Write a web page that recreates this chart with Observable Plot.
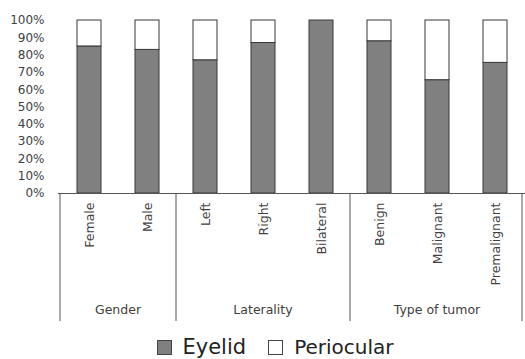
<!DOCTYPE html>
<html>
<head>
<meta charset="utf-8">
<script src="https://cdn.jsdelivr.net/npm/d3@7"></script>
<script src="https://cdn.jsdelivr.net/npm/@observablehq/plot@0.6"></script>
<style>
  body { margin: 0; background: #fff; width: 525px; height: 359px; overflow: hidden; font-family: "DejaVu Sans", sans-serif; }
  #legend { display: flex; justify-content: center; align-items: center; padding-left: 25px; margin-top: 6px; color: #222; }
  .item { display: flex; align-items: center; }
  .sw { width: 13px; height: 13px; border: 1px solid #444; margin-right: 11px; }
  .lab { line-height: 23px; }
</style>
</head>
<body>
<div id="chart"></div>
<div id="legend"></div>
<script>
const categories = ["Female", "Male", "Left", "Right", "Bilateral", "Benign", "Malignant", "Premalignant"];
const eyelid =     [85, 83, 77, 87, 100, 88, 65.5, 75.5];
const periocular = [15, 17, 23, 13, 0, 12, 34.5, 24.5];
const seriesNames = ["Eyelid", "Periocular"];
const seriesColors = ["#808080", "#ffffff"];
const legendSizes = [21, 20];
const groups = ["Gender", "Laterality", "Type of tumor"];
const groupMembers = [["Female", "Male"], ["Left", "Right", "Bilateral"], ["Benign", "Malignant", "Premalignant"]];
const yTicks = [0, 10, 20, 30, 40, 50, 60, 70, 80, 90, 100];

const rows = [];
categories.forEach((c, i) => {
  rows.push({category: c, series: "Eyelid", value: eyelid[i]});
  rows.push({category: c, series: "Periocular", value: periocular[i]});
});

const plot = Plot.plot({
  width: 525,
  height: 330,
  marginTop: 20,
  marginBottom: 137,
  marginLeft: 58,
  marginRight: 0,
  style: {fontFamily: "DejaVu Sans", fontSize: "12px", color: "#404040", background: "white"},
  x: {domain: categories, paddingInner: 0.59, paddingOuter: 0.295},
  y: {domain: [0, 100]},
  color: {domain: seriesNames, range: seriesColors},
  marks: [
    Plot.axisY({ticks: yTicks, tickFormat: d => d + "%", tickSize: 0, tickPadding: 14, fontSize: 12, label: null, fill: "#404040"}),
    Plot.axisX({tickRotate: -90, tickSize: 0, tickPadding: 9, fontSize: 12.5, label: null, fill: "#404040"}),
    Plot.barY(rows, {x: "category", y: "value", fill: "series", stroke: "#383838", strokeWidth: 1}),
    Plot.ruleY([0], {stroke: "#555"})
  ]
});

const xs = plot.scale("x");
const ys = plot.scale("y");
const step = xs.step;
const bw = xs.bandwidth;
const left = c => xs.apply(c) + bw / 2 - step / 2;
const right = c => xs.apply(c) + bw / 2 + step / 2;
const y0 = ys.apply(0);
const sepBottom = 321;

const svg = d3.select(plot);
const g = svg.append("g");
const seps = groupMembers.map(m => left(m[0]));
seps.push(right(groupMembers[groupMembers.length - 1].slice(-1)[0]) - 2);
g.selectAll("line").data(seps).join("line")
  .attr("x1", d => d).attr("x2", d => d)
  .attr("y1", y0).attr("y2", sepBottom)
  .attr("stroke", "#555").attr("stroke-width", 1);
g.selectAll("text").data(groups).join("text")
  .attr("x", (d, i) => (left(groupMembers[i][0]) + right(groupMembers[i].slice(-1)[0])) / 2)
  .attr("y", 314)
  .attr("text-anchor", "middle")
  .attr("font-size", 12.5)
  .attr("fill", "#404040")
  .text(d => d);

document.getElementById("chart").appendChild(plot);

const legend = d3.select("#legend");
seriesNames.forEach((s, i) => {
  const it = legend.append("div").attr("class", "item").style("margin-right", i === 0 ? "22px" : "0px");
  it.append("div").attr("class", "sw").style("background", seriesColors[i]);
  it.append("span").attr("class", "lab").style("font-size", legendSizes[i] + "px").text(s);
});
</script>
</body>
</html>
